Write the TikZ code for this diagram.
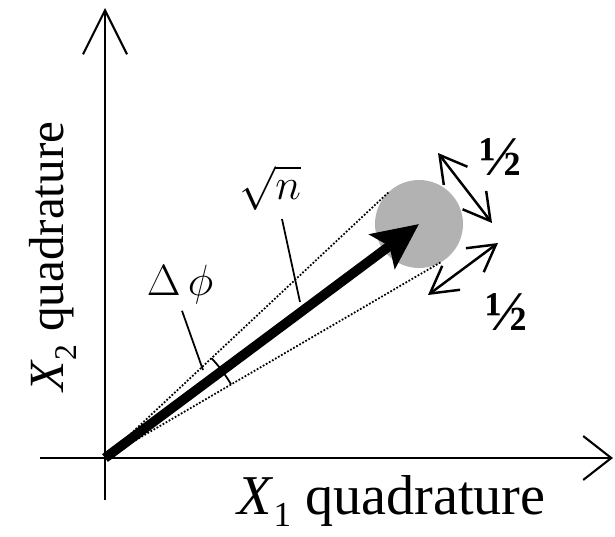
\documentclass[tikz,border=0pt]{standalone}
\usepackage{fontspec}
\setmainfont{Liberation Serif}
\usetikzlibrary{arrows.meta,calc}
\tikzset{
  axis/.style={line width=1.2pt},
  tangentline/.style={dash pattern=on 1pt off 1pt, line width=1pt},
  leader/.style={line width=1pt},
  spread/.style={line width=1.4pt,
    {Straight Barb[length=15pt,width=17pt]}-{Straight Barb[length=15pt,width=17pt]}},
  mathlbl/.style={font=\fontsize{29}{34}\selectfont, inner sep=0pt},
  axlbl/.style={font=\fontsize{28}{34}\selectfont, inner sep=0pt},
  halflbl/.style={font=\fontsize{32}{36}\selectfont\bfseries, inner sep=0pt},
}
\begin{document}
\begin{tikzpicture}[x=0.02cm,y=-0.02cm]
\useasboundingbox (0,0) rectangle (615,537);
% axes
\coordinate (O) at (105,458);
\coordinate (xl) at (40,458);
\coordinate (xr) at (613,458);
\coordinate (yb) at (105,500);
\coordinate (yt) at (105,8);
\draw[axis, -{Straight Barb[length=16pt,width=25pt]}] (xl) -- (xr);
\draw[axis, -{Straight Barb[length=25pt,width=25pt]}] (yb) -- (yt);
% uncertainty spot
\node[circle, fill=black!30, minimum size=1.76cm, inner sep=0pt] (spot) at (419,224) {};
\coordinate (tu) at ($(O)!0.9934!6.45:(spot.center)$);
\coordinate (tl) at ($(O)!0.9934!-6.45:(spot.center)$);
\draw[tangentline] (O) -- (tu);
\draw[tangentline] (O) -- (tl);
\coordinate (arcs) at ($(O)!0.3728!-6.45:(spot.center)$);
\draw[leader] (arcs) arc[start angle=30.24, end angle=43.14, radius=2.92cm];
% amplitude
\draw[line width=5.5pt, -{Stealth[length=26pt,width=24pt,inset=5pt]}] (O) -- (spot.center);
% quadrature spreads
\coordinate (pa) at (438,153);
\coordinate (pb) at (492,223);
\coordinate (ra) at (428,295);
\coordinate (rb) at (498,243);
\draw[spread] (pa) -- (pb);
\draw[spread] (ra) -- (rb);
\node[halflbl] (halfa) at (501,157) {½};
\node[halflbl] (halfb) at (507,312) {½};
% labels
\node[mathlbl, font=\fontsize{32}{38}\selectfont] (dphi) at (180,285) {$\Delta\,\phi$};
\node[mathlbl] (rootn) at (270,188) {$\sqrt{n}$};
\coordinate (dphiend) at (203,370);
\coordinate (rootnend) at (300,302);
\draw[leader] ($(dphi.south)+(2,6)$) -- (dphiend);
\draw[leader] ($(rootn.south)+(12,8)$) -- (rootnend);
\node[axlbl, font=\fontsize{32}{38}\selectfont, anchor=base west] (xlab) at (237,514)
  {\textit{X}\raisebox{-0.22em}{\fontsize{20}{22}\selectfont 1} quadrature};
\node[axlbl, anchor=base west, rotate=90] (ylab) at (63,392)
  {\textit{X}\raisebox{-0.28em}{\fontsize{18}{20}\selectfont 2} quadrature};
\end{tikzpicture}
\end{document}
